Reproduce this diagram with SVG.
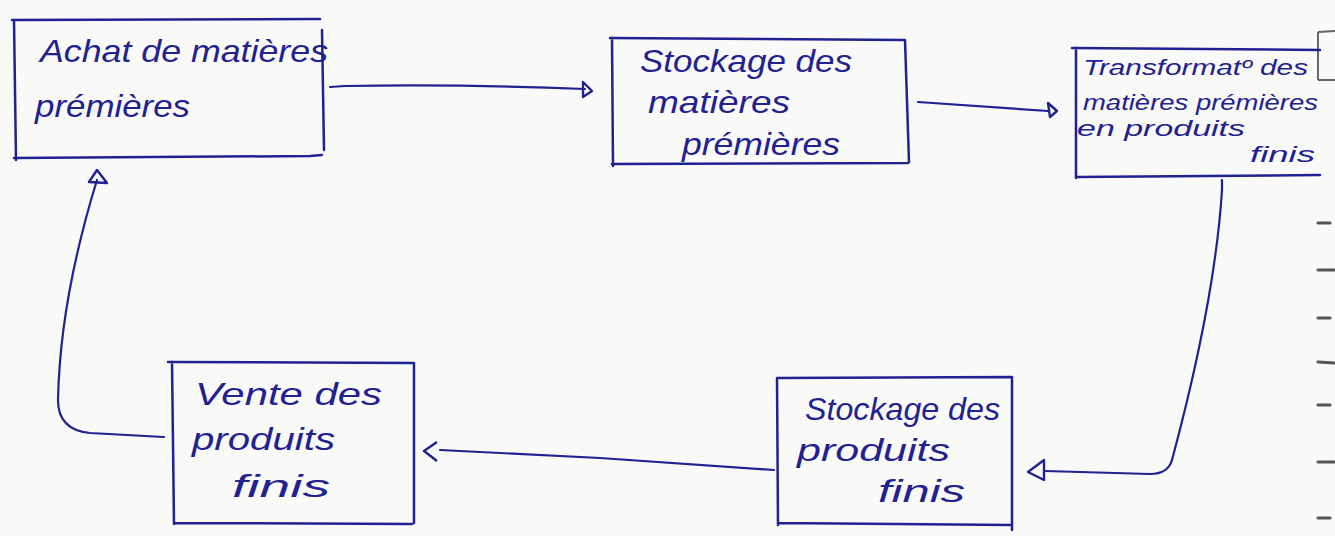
<svg xmlns="http://www.w3.org/2000/svg" width="1335" height="536" viewBox="0 0 1335 536">
  <style>
    .box { fill: none; stroke: #1f2290; stroke-width: 2.5; stroke-linecap: round; stroke-linejoin: round; }
    .conn { fill: none; stroke: #1f2290; stroke-width: 2.2; stroke-linecap: round; stroke-linejoin: round; }
    .head { fill: none; stroke: #1f2290; stroke-width: 2.4; stroke-linejoin: round; }
    .t { font-family: "Liberation Sans", "DejaVu Sans", sans-serif; font-style: italic; fill: #1f2290; }
    .big { font-size: 32px; }
    .small { font-size: 22px; }
    .edge { stroke: #555; stroke-width: 3; stroke-linecap: round; fill: none; }
  </style>
  <rect width="1335" height="536" fill="#f9f9f7"/>

  <g id="page-edge">
    <path d="M1318 32 L1335 31 M1318 32 L1318 80 M1318 80 L1335 80" stroke="#666" stroke-width="2" fill="none"/>
    <path class="edge" d="M1318 223 L1330 223 M1318 270 L1334 270 M1318 318 L1330 318 M1318 362 L1334 363 M1318 405 L1330 405 M1318 462 L1334 462 M1318 518 L1330 518"/>
  </g>

  <g id="connectors">
    <path class="conn" d="M330 87 L345 86 Q460 84 585 89"/>
    <path class="head" d="M583 82 L592 91 L583 97 Z"/>
    <path class="conn" d="M918 102 L1048 111"/>
    <path class="head" d="M1048 103 L1057 111 L1050 117 Z"/>
    <path class="conn" d="M1222 180 L1222 190 Q1215 300 1172 460 Q1168 474 1150 474 L1045 471"/>
    <path class="head" d="M1044 460 L1028 472 L1044 480 Z"/>
    <path class="conn" d="M774 470 L600 458 L440 450"/>
    <path class="head" d="M437 442 L424 451 L437 461"/>
    <path class="conn" d="M164 437 L90 433 Q58 430 58 400 Q60 300 97 180"/>
    <path class="head" d="M97 170 L107 183 L89 182 Z"/>
  </g>

  <g id="node-achat">
    <path class="box" d="M12 20 L320 19 M14 20 L16 160 M14 158 L310 156 L322 155 M322 30 L324 150"/>
    <text class="t big" x="40" y="62" textLength="288" lengthAdjust="spacingAndGlyphs">Achat de matières</text>
    <text class="t big" x="35" y="117" textLength="155" lengthAdjust="spacingAndGlyphs">prémières</text>
  </g>

  <g id="node-stockage-mp">
    <path class="box" d="M610 38 L905 40 M612 38 L613 166 M612 164 L908 163 M905 40 L909 162"/>
    <text class="t big" x="640" y="72" textLength="212" lengthAdjust="spacingAndGlyphs">Stockage des</text>
    <text class="t big" x="648" y="113" textLength="142" lengthAdjust="spacingAndGlyphs">matières</text>
    <text class="t big" x="682" y="155" textLength="158" lengthAdjust="spacingAndGlyphs">prémières</text>
  </g>

  <g id="node-transformation">
    <path class="box" d="M1072 48 L1320 50 M1076 48 L1076 178 M1076 177 L1320 175"/>
    <text class="t small" x="1083" y="75" textLength="225" lengthAdjust="spacingAndGlyphs">Transformatº des</text>
    <text class="t small" x="1083" y="110" textLength="235" lengthAdjust="spacingAndGlyphs">matières prémières</text>
    <text class="t small" x="1077" y="136" textLength="168" lengthAdjust="spacingAndGlyphs">en produits</text>
    <text class="t small" x="1250" y="162" textLength="65" lengthAdjust="spacingAndGlyphs">finis</text>
  </g>

  <g id="node-stockage-pf">
    <path class="box" d="M777 378 L1012 377 M777 378 L778 525 M778 523 L1012 525 M1012 377 L1012 530"/>
    <text class="t big" x="805" y="420" textLength="195" lengthAdjust="spacingAndGlyphs">Stockage des</text>
    <text class="t big" x="797" y="461" textLength="153" lengthAdjust="spacingAndGlyphs">produits</text>
    <text class="t big" x="878" y="502" textLength="87" lengthAdjust="spacingAndGlyphs">finis</text>
  </g>

  <g id="node-vente">
    <path class="box" d="M168 362 L414 363 M172 362 L174 524 M174 523 L412 524 M414 363 L414 523"/>
    <text class="t big" x="195" y="405" textLength="187" lengthAdjust="spacingAndGlyphs">Vente des</text>
    <text class="t big" x="192" y="450" textLength="143" lengthAdjust="spacingAndGlyphs">produits</text>
    <text class="t big" x="232" y="497" textLength="98" lengthAdjust="spacingAndGlyphs">finis</text>
  </g>
</svg>
